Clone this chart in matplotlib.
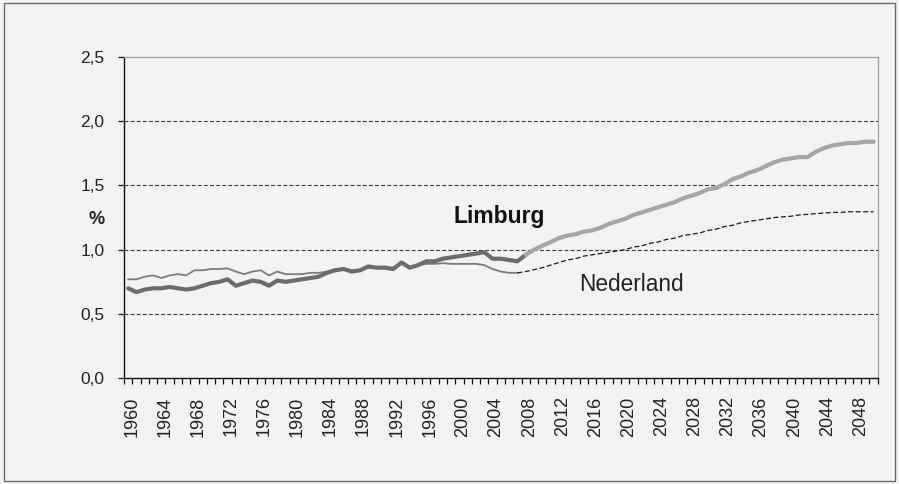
import matplotlib
matplotlib.use("Agg")
import matplotlib.pyplot as plt
import matplotlib.transforms as mtransforms
import numpy as np

plt.rcParams['font.family'] = ['Liberation Sans', 'DejaVu Sans']

# ---- data ----
years_hist = list(range(1960, 2009))
limburg_hist = [0.70, 0.67, 0.69, 0.70, 0.70, 0.71, 0.70, 0.69, 0.70, 0.72,
                0.74, 0.75, 0.77, 0.72, 0.74, 0.76, 0.75, 0.72, 0.76, 0.75,
                0.76, 0.77, 0.78, 0.79, 0.82, 0.84, 0.85, 0.83, 0.84, 0.87,
                0.86, 0.86, 0.85, 0.90, 0.86, 0.88, 0.91, 0.91, 0.93, 0.94,
                0.95, 0.96, 0.97, 0.98, 0.93, 0.93, 0.92, 0.91, 0.96]
years_proj = list(range(2008, 2051))
limburg_proj = [0.96, 1.00, 1.03, 1.06, 1.09, 1.11, 1.12, 1.14, 1.15, 1.17,
                1.20, 1.22, 1.24, 1.27, 1.29, 1.31, 1.33, 1.35, 1.37, 1.40,
                1.42, 1.44, 1.47, 1.48, 1.51, 1.55, 1.57, 1.60, 1.62, 1.65,
                1.68, 1.70, 1.71, 1.72, 1.72, 1.76, 1.79, 1.81, 1.82, 1.83,
                1.83, 1.84, 1.84]
years_nl_hist = list(range(1960, 2008))
nederland_hist = [0.77, 0.77, 0.79, 0.80, 0.78, 0.80, 0.81, 0.80, 0.84, 0.84,
                  0.85, 0.85, 0.855, 0.83, 0.81, 0.83, 0.84, 0.80, 0.83, 0.81,
                  0.81, 0.81, 0.82, 0.82, 0.83, 0.85, 0.85, 0.84, 0.84, 0.86,
                  0.86, 0.86, 0.86, 0.89, 0.86, 0.88, 0.89, 0.89, 0.895, 0.89,
                  0.89, 0.89, 0.89, 0.88, 0.85, 0.83, 0.82, 0.82]
years_nl_proj = list(range(2007, 2051))
nederland_proj = [0.82, 0.83, 0.845, 0.86, 0.88, 0.90, 0.92, 0.93, 0.95, 0.96,
                  0.97, 0.98, 0.99, 1.00, 1.02, 1.03, 1.05, 1.06, 1.08, 1.09,
                  1.11, 1.12, 1.13, 1.15, 1.16, 1.18, 1.19, 1.21, 1.22, 1.23,
                  1.24, 1.25, 1.255, 1.26, 1.27, 1.275, 1.28, 1.285, 1.29, 1.29,
                  1.295, 1.295, 1.295, 1.295]
label_years = list(range(1960, 2049, 4))
y_ticks = [0.0, 0.5, 1.0, 1.5, 2.0, 2.5]
y_labels = ["0,0", "0,5", "1,0", "1,5", "2,0", "2,5"]

bg = '#f3f3f3'
fig = plt.figure(figsize=(8.99, 4.84), dpi=100, facecolor=bg)
ax = fig.add_axes([0.138, 0.2184, 0.8383, 0.6642], facecolor=bg)

for g in [0.5, 1.0, 1.5, 2.0]:
    ax.axhline(g, color='#3a3a3a', lw=0.8, dashes=(3.5, 2.0), zorder=1)

ax.plot(years_nl_hist, nederland_hist, color='#7c7c7c', lw=1.3, zorder=3)
ax.plot(years_nl_proj, nederland_proj, color='#1a1a1a', lw=0.9, dashes=(4, 2), zorder=3)
ax.plot(years_hist, limburg_hist, color='#6c6c6c', lw=3.0, zorder=4,
        solid_capstyle='round')
ax.plot(years_proj, limburg_proj, color='#a6a6a6', lw=3.0, zorder=4,
        solid_capstyle='round')

ax.set_xlim(1959.5, 2050.5)
ax.set_ylim(0, 2.5)

ax.set_xticks(label_years)
ax.set_xticklabels([str(y) for y in label_years], rotation=90, fontsize=13,
                   color='#222222')
ax.set_xticks(np.arange(1959.5, 2051, 1), minor=True)
ax.tick_params(axis='x', which='major', length=0, pad=13)
ax.tick_params(axis='x', which='minor', length=4, width=0.9, direction='out',
               color='#111111')
offset = mtransforms.ScaledTranslation(3.5 / 100, 0, fig.dpi_scale_trans)
for lab in ax.get_xticklabels():
    lab.set_transform(lab.get_transform() + offset)

ax.set_yticks(y_ticks)
ax.set_yticklabels(y_labels, fontsize=12.5, color='#222222')
ax.tick_params(axis='y', length=4, width=0.9, direction='out', pad=10,
               color='#111111')

ax.spines['left'].set_color('#111111')
ax.spines['bottom'].set_color('#111111')
ax.spines['left'].set_linewidth(1.0)
ax.spines['bottom'].set_linewidth(1.0)
ax.spines['top'].set_color('#a0a0a0')
ax.spines['right'].set_color('#a0a0a0')
ax.spines['top'].set_linewidth(0.9)
ax.spines['right'].set_linewidth(0.9)

ax.text(2004.8, 1.255, "Limburg", fontsize=16.5, fontweight='bold',
        ha='center', va='center', color='#111111')
ax.text(2020.8, 0.73, "Nederland", fontsize=16.3, ha='center', va='center',
        color='#222222')
fig.text(97 / 899, 1 - 219 / 484, "%", fontsize=13, fontweight='bold',
         ha='center', va='center', color='#222222')

fig.patches.append(plt.Rectangle((0.004, 0.006), 0.992, 0.988, fill=False,
                                 edgecolor='#6a6a6a', lw=1.0,
                                 transform=fig.transFigure, figure=fig))

fig.savefig("out.png", dpi=100, facecolor=bg)
